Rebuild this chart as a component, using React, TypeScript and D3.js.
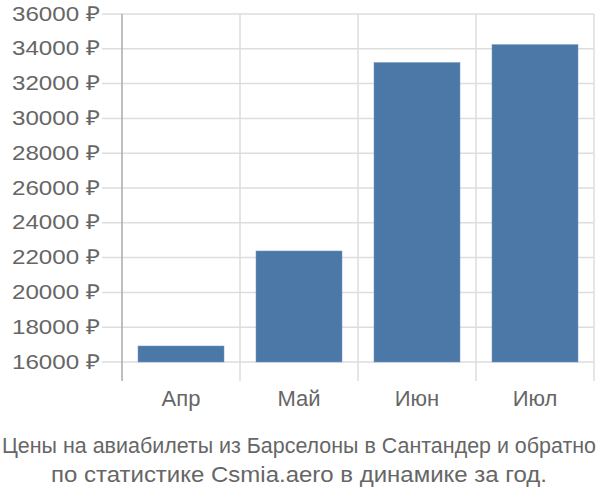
import React from "react";
import * as d3 from "d3";

const categories = ["Апр", "Май", "Июн", "Июл"];
const values = [16920, 22380, 33210, 34240];
const yTicks = [16000, 18000, 20000, 22000, 24000, 26000, 28000, 30000, 32000, 34000, 36000];
const titleLines = [
  "Цены на авиабилеты из Барселоны в Сантандер и обратно",
  "по статистике Csmia.aero в динамике за год.",
];
const titleWidths = [594, 496];

export default function App() {
  const W = 600, H = 500;
  const left = 122, right = 594, top = 14, baseY = 362, bottom = 381;
  const x = d3.scaleBand<string>().domain(categories).range([left, right]).paddingInner(0).paddingOuter(0);
  const y = d3.scaleLinear().domain([16000, 36000]).range([baseY, top]);
  const barPad = 16;
  const font = "'Liberation Sans', Arial, sans-serif";
  const bounds = [left, ...categories.map((c) => (x(c) as number) + x.bandwidth())];
  return (
    <svg width={W} height={H} style={{ position: "absolute", left: 0, top: 0 }} fontFamily={font}>
      {yTicks.map((t) => (
        <line key={"h" + t} x1={102} x2={right} y1={y(t)} y2={y(t)} stroke="#dddddd" strokeWidth={1.5} />
      ))}
      {bounds.map((b, i) => (
        <line key={"v" + i} x1={b} x2={b} y1={top} y2={bottom} stroke={i === 0 ? "#aaaaaa" : "#dddddd"} strokeWidth={1.5} />
      ))}
      {categories.map((c, i) => (
        <rect
          key={c}
          x={(x(c) as number) + barPad}
          width={x.bandwidth() - 2 * barPad}
          y={y(values[i])}
          height={y(16000) - y(values[i])}
          fill="#4c78a8"
          stroke="#6f95c1"
          strokeWidth={0.5}
        />
      ))}
      {yTicks.map((t) => (
        <text
          key={"t" + t}
          x={12}
          y={y(t) + 6.5}
          textLength={88}
          lengthAdjust="spacingAndGlyphs"
          fontSize={20.5}
          fill="#666666"
        >
          {t} ₽
        </text>
      ))}
      {categories.map((c) => (
        <text key={"c" + c} x={(x(c) as number) + x.bandwidth() / 2} y={406} textAnchor="middle" fontSize={22} fill="#666666">
          {c}
        </text>
      ))}
      {titleLines.map((l, i) => (
        <text
          key={"l" + i}
          x={i === 0 ? 2 : 51}
          y={453 + i * 29}
          textLength={titleWidths[i]}
          lengthAdjust="spacingAndGlyphs"
          fontSize={i === 0 ? 21.5 : 22}
          fill="#666666"
        >
          {l}
        </text>
      ))}
    </svg>
  );
}
